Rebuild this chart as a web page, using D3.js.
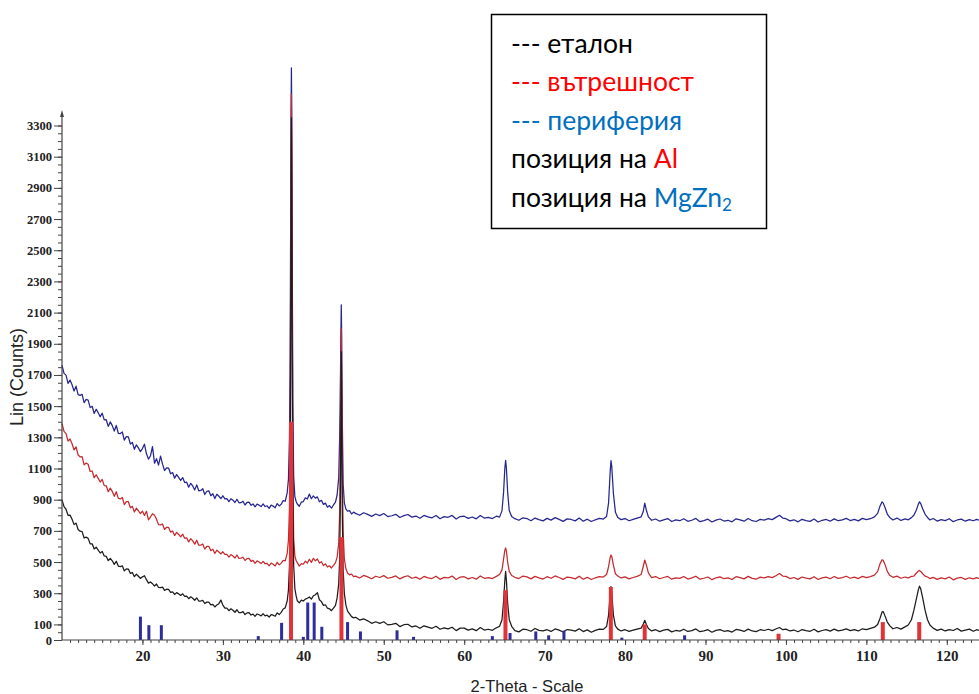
<!DOCTYPE html>
<html>
<head>
<meta charset="utf-8">
<script src="https://cdn.jsdelivr.net/npm/d3@7"></script>
<style>
  body { margin: 0; background: #fff; }
  svg { display: block; }
</style>
</head>
<body>
<div id="chartArea"></div>
<script>
// XRD patterns, [2-theta, counts]
const etalon = [[10,899],[10.25,855],[10.5,839],[10.75,799],[11,801],[11.25,774],[11.5,740],[11.75,750],[12,709],[12.25,698],[12.5,695],[12.75,654],[13,660],[13.25,652],[13.5,617],[13.75,617],[14,584],[14.25,595],[14.5,577],[14.75,558],
  [15,568],[15.25,539],[15.5,537],[15.75,509],[16,524],[16.25,508],[16.5,485],[16.75,505],[17,474],[17.25,471],[17.5,476],[17.75,443],[18,456],[18.25,455],[18.5,427],[18.75,433],[19,406],[19.25,422],[19.5,409],[19.75,395],
  [20,405],[20.25,412],[20.5,387],[20.75,365],[21,372],[21.25,361],[21.5,346],[21.75,359],[22,337],[22.25,336],[22.5,339],[22.75,318],[23,326],[23.25,325],[23.5,306],[23.75,309],[24,292],[24.25,304],[24.5,296],[24.75,286],
  [25,296],[25.25,280],[25.5,281],[25.75,265],[26,277],[26.25,268],[26.5,255],[26.75,270],[27,250],[27.25,250],[27.5,254],[27.75,234],[28,243],[28.25,243],[28.5,225],[28.75,229],[29,212],[29.25,225],[29.5,233],[29.75,256],
  [30,224],[30.25,205],[30.5,205],[30.75,188],[31,200],[31.25,191],[31.5,178],[31.75,194],[32,175],[32.25,176],[32.5,182],[32.75,163],[33,174],[33.25,176],[33.5,160],[33.75,166],[34,152],[34.25,167],[34.5,162],[34.75,155],
  [35,168],[35.25,155],[35.5,159],[35.75,147],[36,163],[36.25,159],[36.5,152],[36.75,174],[37,163],[37.25,177],[37.5,199],[37.75,206],[38,252],
  [38.15,320],[38.28,480],[38.36,900],[38.42,1700],[38.48,2800],[38.52,3350],[38.56,2900],[38.62,1800],[38.7,900],[38.8,480],[38.95,330],[39.1,285],
  [39.25,252],[39.5,238],[39.75,256],[40,250],[40.25,262],[40.5,268],[40.75,276],[41,262],[41.25,284],[41.5,290],[41.75,304],[42,258],[42.25,246],[42.5,222],[42.75,226],[43,204],[43.25,200],[43.5,188],[43.75,204],[44,222],
  [44.2,270],[44.4,360],[44.52,520],[44.62,950],[44.67,1400],[44.72,1850],[44.77,1400],[44.85,800],[44.95,450],[45.1,300],[45.3,222],[45.5,185],[45.75,168],[46,150],[46.25,142],
  [46.5,146],[47,128],[47.5,136],[48,123],[48.5,107],[49,117],[49.5,107],[50,117],[50.5,97],[51,100],[51.5,107],[52,86],[52.5,98],[53,101],[53.5,84],[54,90],[54.5,75],[55,91],[55.5,83],[56,75],[56.5,88],[57,69],[57.5,78],[58,71],[58.5,82],[59,60],[59.5,76],[60,76],[60.5,63],[61,71],[61.5,60],[62,80],[62.5,64],[63,69],[63.5,62],[64,78],
  [64.4,88],[64.7,130],[64.9,250],[65.05,380],[65.15,440],[65.25,380],[65.4,240],[65.6,130],[65.9,88],
  [66.3,60],[66.8,52],[67.3,69],[67.8,66],[68.3,56],[68.8,74],[69.3,62],[69.8,58],[70.3,66],[70.8,55],[71.3,71],[71.8,63],[72.3,51],[72.8,67],[73.3,64],[73.8,57],[74.3,72],[74.8,54],[75.3,65],[75.8,50],[76.3,62],[76.8,70],[77.3,68],
  [77.7,86],[77.95,160],[78.15,300],[78.25,342],[78.35,300],[78.55,160],[78.8,90],[79.1,70],
  [79.5,58],[80,66],[80.5,55],[81,63],[81.5,70],[82,76],[82.25,100],[82.45,126],[82.65,100],[82.9,74],[83.3,58],[83.8,66],[84.3,54],[84.8,63],[85.3,68],[85.8,52],[86.3,61],[86.8,57],[87.3,69],[87.8,55],[88.3,60],[88.8,71],[89.3,53],[89.8,58],[90.3,66],[90.8,50],[91.3,62],[91.8,67],[92.3,56],[92.8,60],[93.3,51],[93.8,68],[94.3,63],[94.8,55],[95.3,70],[95.8,58],[96.3,54],[96.8,66],[97.3,61],[97.8,69],[98.3,60],[98.8,72],[99.2,80],[99.6,66],
  [100,70],[100.5,58],[101,64],[101.5,53],[102,67],[102.5,60],[103,56],[103.5,69],[104,52],[104.5,61],[105,66],[105.5,57],[106,70],[106.5,59],[107,63],[107.5,71],[108,60],[108.5,66],[109,58],[109.5,72],[110,66],[110.5,74],[111,82],
  [111.4,100],[111.7,140],[111.95,180],[112.1,182],[112.35,150],[112.6,115],[112.9,92],[113.3,72],[113.8,80],[114.3,70],[114.8,84],[115.2,96],[115.6,130],[115.9,190],[116.2,260],[116.45,320],[116.6,345],[116.75,330],[117.0,270],[117.3,190],[117.6,130],[117.9,96],
  [118.3,76],[118.8,62],[119.3,70],[119.8,58],[120.3,67],[120.8,61],[121.3,74],[121.8,57],[122.3,64],[122.8,70],[123.3,56],[123.7,66],[124,62]];

const vatreshnost = [[10,1390],[10.25,1338],[10.5,1324],[10.75,1276],[11,1289],[11.25,1259],[11.5,1219],[11.75,1239],[12,1187],[12.25,1175],[12.5,1176],[12.75,1123],[13,1135],[13.25,1127],[13.5,1081],[13.75,1084],[14,1041],[14.25,1060],[14.5,1037],[14.75,1013],
  [15,1030],[15.25,990],[15.5,989],[15.75,951],[16,974],[16.25,953],[16.5,922],[16.75,951],[17,908],[17.25,905],[17.5,914],[17.75,868],[18,888],[18.25,887],[18.5,848],[18.75,857],[19,821],[19.25,846],[19.5,829],[19.75,810],
  [20,827],[20.25,799],[20.5,826],[20.75,771],[21,790],[21.25,810],[21.5,800],[21.75,774],[22,740],[22.25,738],[22.5,744],[22.75,709],[23,723],[23.25,722],[23.5,692],[23.75,699],[24,670],[24.25,690],[24.5,677],[24.75,662],
  [25,679],[25.25,653],[25.5,655],[25.75,629],[26,650],[26.25,636],[26.5,615],[26.75,640],[27,608],[27.25,608],[27.5,616],[27.75,583],[28,600],[28.25,601],[28.5,573],[28.75,582],[29,555],[29.25,576],[29.5,565],[29.75,552],
  [30,566],[30.25,549],[30.5,550],[30.75,532],[31,548],[31.25,539],[31.5,526],[31.75,545],[32,523],[32.25,525],[32.5,531],[32.75,510],[33,522],[33.25,523],[33.5,504],[33.75,511],[34,492],[34.25,508],[34.5,500],[34.75,490],
  [35,504],[35.25,489],[35.5,492],[35.75,476],[36,493],[36.25,486],[36.5,475],[36.75,498],[37,482],[37.25,493],[37.5,510],[37.75,508],[38,556],
  [38.15,640],[38.28,850],[38.36,1300],[38.42,2200],[38.48,3100],[38.52,3500],[38.56,3150],[38.62,2200],[38.7,1100],[38.8,650],[38.95,540],[39.1,510],
  [39.25,496],[39.5,474],[39.75,490],[40,486],[40.25,506],[40.5,494],[40.75,518],[41,498],[41.25,524],[41.5,508],[41.75,520],[42,494],[42.25,502],[42.5,478],[42.75,488],[43,468],[43.25,476],[43.5,462],[43.75,478],[44,496],
  [44.2,530],[44.4,620],[44.52,820],[44.62,1350],[44.67,1700],[44.72,2000],[44.77,1650],[44.85,1100],[44.95,700],[45.1,520],[45.3,455],[45.5,430],[45.75,418],[46,422],[46.25,406],
  [46.5,410],[47,398],[47.5,414],[48,405],[48.5,393],[49,409],[49.5,401],[50,413],[50.5,396],[51,402],[51.5,411],[52,392],[52.5,405],[53,412],[53.5,396],[54,403],[54.5,390],[55,408],[55.5,399],[56,394],[56.5,409],[57,389],[57.5,402],[58,398],[58.5,410],[59,388],[59.5,404],[60,406],[60.5,392],[61,401],[61.5,390],[62,411],[62.5,396],[63,400],[63.5,394],[64,408],
  [64.4,420],[64.7,450],[64.9,520],[65.05,575],[65.15,590],[65.25,570],[65.4,500],[65.6,440],[65.9,414],
  [66.3,402],[66.8,394],[67.3,410],[67.8,405],[68.3,392],[68.8,408],[69.3,399],[69.8,391],[70.3,406],[70.8,396],[71.3,411],[71.8,401],[72.3,389],[72.8,404],[73.3,400],[73.8,392],[74.3,409],[74.8,390],[75.3,402],[75.8,388],[76.3,399],[76.8,407],[77.3,404],
  [77.7,420],[77.95,470],[78.15,530],[78.25,545],[78.35,535],[78.55,480],[78.8,425],[79.1,410],
  [79.5,398],[80,405],[80.5,392],[81,401],[81.5,408],[82,420],[82.25,470],[82.45,513],[82.65,480],[82.9,430],[83.3,400],[83.8,407],[84.3,393],[84.8,401],[85.3,408],[85.8,390],[86.3,399],[86.8,395],[87.3,407],[87.8,391],[88.3,398],[88.8,409],[89.3,390],[89.8,396],[90.3,404],[90.8,387],[91.3,399],[91.8,405],[92.3,393],[92.8,398],[93.3,388],[93.8,406],[94.3,400],[94.8,392],[95.3,408],[95.8,395],[96.3,390],[96.8,403],[97.3,398],[97.8,406],[98.3,400],[98.8,414],[99.2,426],[99.6,410],
  [100,408],[100.5,394],[101,401],[101.5,389],[102,404],[102.5,397],[103,392],[103.5,406],[104,388],[104.5,398],[105,403],[105.5,393],[106,407],[106.5,395],[107,400],[107.5,409],[108,396],[108.5,403],[109,394],[109.5,408],[110,400],[110.5,406],[111,416],
  [111.4,440],[111.7,490],[111.95,515],[112.1,510],[112.35,480],[112.6,440],[112.9,415],[113.3,402],[113.8,410],[114.3,396],[114.8,404],[115.2,398],[115.6,408],[115.9,410],[116.2,428],[116.45,442],[116.6,446],[116.75,440],[117.0,425],[117.3,410],[117.6,404],[117.9,394],
  [118.3,402],[118.8,389],[119.3,398],[119.8,392],[120.3,404],[120.8,386],[121.3,397],[121.8,401],[122.3,389],[122.8,399],[123.3,392],[123.7,400],[124,394]];

const periferia = [[10,1763],[10.25,1710],[10.5,1699],[10.75,1646],[11,1667],[11.25,1637],[11.5,1597],[11.75,1628],[12,1574],[12.25,1569],[12.5,1576],[12.75,1522],[13,1543],[13.25,1539],[13.5,1491],[13.75,1499],[14,1453],[14.25,1480],[14.5,1458],[14.75,1432],
  [15,1455],[15.25,1412],[15.5,1413],[15.75,1370],[16,1399],[16.25,1375],[16.5,1340],[16.75,1376],[17,1326],[17.25,1324],[17.5,1334],[17.75,1282],[18,1305],[18.25,1303],[18.5,1257],[18.75,1267],[19,1223],[19.25,1252],[19.5,1232],[19.75,1208],
  [20,1228],[20.25,1256],[20.5,1194],[20.75,1160],[21,1182],[21.25,1240],[21.5,1134],[21.75,1163],[22,1122],[22.25,1180],[22.5,1128],[22.75,1087],[23,1104],[23.25,1103],[23.5,1066],[23.75,1074],[24,1038],[24.25,1061],[24.5,1043],[24.75,1023],
  [25,1042],[25.25,1010],[25.5,1012],[25.75,980],[26,1005],[26.25,988],[26.5,963],[26.75,995],[27,957],[27.25,959],[27.5,970],[27.75,933],[28,954],[28.25,957],[28.5,925],[28.75,938],[29,907],[29.25,935],[29.5,922],[29.75,907],
  [30,925],[30.25,905],[30.5,907],[30.75,887],[31,906],[31.25,897],[31.5,882],[31.75,903],[32,880],[32.25,881],[32.5,890],[32.75,866],[33,882],[33.25,884],[33.5,864],[33.75,873],[34,854],[34.25,872],[34.5,865],[34.75,856],
  [35,873],[35.25,856],[35.5,861],[35.75,844],[36,865],[36.25,859],[36.5,848],[36.75,875],[37,860],[37.25,871],[37.5,894],[37.75,890],[38,945],
  [38.15,1030],[38.28,1300],[38.36,1800],[38.42,2600],[38.48,3400],[38.52,3670],[38.56,3400],[38.62,2500],[38.7,1500],[38.8,1050],[38.95,920],[39.1,890],
  [39.25,872],[39.5,858],[39.75,884],[40,888],[40.25,912],[40.5,904],[40.75,936],[41,906],[41.25,924],[41.5,910],[41.75,918],[42,886],[42.25,896],[42.5,870],[42.75,878],[43,852],[43.25,862],[43.5,846],[43.75,866],[44,884],
  [44.2,930],[44.4,1040],[44.52,1300],[44.62,1700],[44.67,1950],[44.72,2150],[44.77,1950],[44.85,1400],[44.95,1000],[45.1,880],[45.3,840],[45.5,826],[45.75,830],[46,808],[46.25,820],
  [46.5,812],[47,800],[47.5,816],[48,806],[48.5,793],[49,808],[49.5,798],[50,811],[50.5,792],[51,797],[51.5,806],[52,786],[52.5,798],[53,805],[53.5,788],[54,795],[54.5,781],[55,799],[55.5,790],[56,784],[56.5,799],[57,778],[57.5,791],[58,787],[58.5,799],[59,776],[59.5,792],[60,794],[60.5,780],[61,789],[61.5,777],[62,798],[62.5,782],[63,787],[63.5,779],[64,794],
  [64.4,788],[64.7,830],[64.9,950],[65.05,1100],[65.15,1152],[65.25,1100],[65.4,950],[65.6,830],[65.9,792],
  [66.3,778],[66.8,768],[67.3,784],[67.8,779],[68.3,765],[68.8,782],[69.3,772],[69.8,764],[70.3,780],[70.8,769],[71.3,785],[71.8,774],[72.3,761],[72.8,777],[73.3,773],[73.8,764],[74.3,782],[74.8,762],[75.3,775],[75.8,760],[76.3,771],[76.8,780],[77.3,776],
  [77.7,792],[77.95,880],[78.15,1080],[78.25,1150],[78.35,1110],[78.55,940],[78.8,820],[79.1,786],
  [79.5,772],[80,779],[80.5,765],[81,774],[81.5,782],[82,790],[82.25,822],[82.45,878],[82.65,832],[82.9,790],[83.3,768],[83.8,776],[84.3,762],[84.8,771],[85.3,779],[85.8,760],[86.3,770],[86.8,765],[87.3,778],[87.8,761],[88.3,768],[88.8,780],[89.3,759],[89.8,766],[90.3,775],[90.8,757],[91.3,769],[91.8,776],[92.3,763],[92.8,768],[93.3,758],[93.8,777],[94.3,771],[94.8,762],[95.3,779],[95.8,765],[96.3,760],[96.8,774],[97.3,769],[97.8,778],[98.3,772],[98.8,788],[99.2,800],[99.6,782],
  [100,778],[100.5,764],[101,771],[101.5,758],[102,774],[102.5,766],[103,761],[103.5,776],[104,757],[104.5,768],[105,773],[105.5,762],[106,777],[106.5,765],[107,770],[107.5,780],[108,766],[108.5,774],[109,764],[109.5,780],[110,772],[110.5,778],[111,790],
  [111.4,812],[111.7,860],[111.95,886],[112.1,878],[112.35,845],[112.6,808],[112.9,786],[113.3,770],[113.8,782],[114.3,767],[114.8,777],[115.2,771],[115.6,785],[115.9,800],[116.2,832],[116.45,870],[116.6,886],[116.75,876],[117.0,842],[117.3,806],[117.6,786],[117.9,770],
  [118.3,779],[118.8,763],[119.3,772],[119.8,766],[120.3,778],[120.8,759],[121.3,770],[121.8,775],[122.3,762],[122.8,772],[123.3,765],[123.7,774],[124,768]];

// reference line positions (2-theta) and their heights in counts
const alPos    = [38.47, 44.74, 65.13, 78.23, 82.44, 99.08, 112.04, 116.57];
const alCounts = [1400, 660, 320, 340, 100, 40, 115, 115];
const mgPos    = [19.75, 20.8, 22.35, 34.4, 37.3, 40.0, 40.55, 41.35, 42.3, 45.5, 47.1, 51.65, 53.7, 63.5, 65.7, 68.9, 70.5, 72.4, 79.6, 87.4];
const mgCounts = [150, 95, 95, 25, 110, 20, 240, 240, 85, 115, 55, 62, 20, 25, 45, 55, 30, 60, 15, 30];

const xTicks = [20, 30, 40, 50, 60, 70, 80, 90, 100, 110, 120];
const yTicks = [0, 100, 300, 500, 700, 900, 1100, 1300, 1500, 1700, 1900, 2100, 2300, 2500, 2700, 2900, 3100, 3300];

const legendRows = [["--- еталон"], ["--- вътрешност"], ["--- периферия"], ["позиция на ", "Al"], ["позиция на ", "MgZn", "2"]];

var width = 979, height = 694;
var svg = d3.select('#chartArea').append('svg')
    .attr('width', width)
    .attr('height', height);

var x = d3.scaleLinear().domain([10, 124]).range([62, 979]);
var y = d3.scaleLinear().domain([0, 3300]).range([640, 125.5]);

var line = d3.line().x(function(d){ return x(d[0]); }).y(function(d){ return y(d[1]); });

// curves: периферия under вътрешност under еталон
[[periferia, '#262690'], [vatreshnost, '#c42a2e'], [etalon, '#1c1c1c']].forEach(function(s) {
    svg.append('path').datum(s[0])
        .attr('d', line)
        .attr('fill', 'none')
        .attr('stroke', s[1])
        .attr('stroke-width', 1.25)
        .attr('stroke-linejoin', 'round');
});

// MgZn2 reference lines
svg.append('g').selectAll('rect').data(mgPos).enter().append('rect')
    .attr('x', function(d){ return x(d) - 1.5; })
    .attr('y', function(d, i){ return y(mgCounts[i]); })
    .attr('width', 3)
    .attr('height', function(d, i){ return y(0) - y(mgCounts[i]); })
    .attr('fill', '#2d2d9c');

// Al reference lines
svg.append('g').selectAll('rect').data(alPos).enter().append('rect')
    .attr('x', function(d){ return x(d) - 2; })
    .attr('y', function(d, i){ return y(alCounts[i]); })
    .attr('width', 4)
    .attr('height', function(d, i){ return y(0) - y(alCounts[i]); })
    .attr('fill', '#e03438');

// y axis
var axisColor = '#444';
var tickFont = 'Liberation Serif';
var yMinor = svg.append('g').attr('transform', 'translate(62,0)')
    .call(d3.axisLeft(y).tickValues(d3.range(0, 3301, 50)).tickSize(4).tickFormat(''));
var yMajor = svg.append('g').attr('transform', 'translate(62,0)')
    .call(d3.axisLeft(y).tickValues(yTicks).tickFormat(d3.format('d')).tickSize(8).tickPadding(2));
yMajor.attr('font-family', tickFont).attr('font-weight', 'bold').attr('font-size', 12.5);
yMajor.selectAll('text').attr('fill', '#222');

// x axis
var xMinor = svg.append('g').attr('transform', 'translate(0,640)')
    .call(d3.axisBottom(x).tickValues(d3.range(11, 124, 1)).tickSize(3).tickFormat(''));
var xMajor = svg.append('g').attr('transform', 'translate(0,640)')
    .call(d3.axisBottom(x).tickValues(xTicks).tickSize(5).tickPadding(5));
xMajor.attr('font-family', tickFont).attr('font-weight', 'bold').attr('font-size', 15);
xMajor.selectAll('text').attr('fill', '#222');

[yMinor, yMajor, xMinor, xMajor].forEach(function(g) {
    g.select('.domain').remove();
    g.selectAll('line').attr('stroke', axisColor);
});

svg.append('line').attr('x1', 62).attr('x2', 62).attr('y1', 640).attr('y2', 113)
    .attr('stroke', axisColor).attr('stroke-width', 1.2);
svg.append('path').attr('d', 'M60,117 L62,110 L64,117 Z').attr('fill', axisColor);
svg.append('line').attr('x1', 62).attr('x2', 979).attr('y1', 640).attr('y2', 640)
    .attr('stroke', axisColor).attr('stroke-width', 1.2);

// axis titles
svg.append('text')
    .attr('transform', 'translate(23,377) rotate(-90)')
    .attr('text-anchor', 'middle')
    .attr('font-family', 'Liberation Sans')
    .attr('font-size', 18)
    .attr('fill', '#222')
    .text('Lin (Counts)');
svg.append('text')
    .attr('x', 527)
    .attr('y', 692)
    .attr('text-anchor', 'middle')
    .attr('font-family', 'Liberation Sans')
    .attr('font-size', 16.5)
    .attr('fill', '#222')
    .text('2-Theta - Scale');

// legend box
var legendColors = [['#000'], ['#ff0000'], ['#0070c0'], ['#000', '#ff0000'], ['#000', '#0070c0', '#0070c0']];
svg.append('rect')
    .attr('x', 491.5).attr('y', 14.5)
    .attr('width', 275).attr('height', 214)
    .attr('fill', '#fff')
    .attr('stroke', '#000')
    .attr('stroke-width', 1.5);
legendRows.forEach(function(row, i) {
    var t = svg.append('text')
        .attr('x', 511)
        .attr('y', 52.5 + i * 38.5)
        .attr('font-family', 'Lato')
        .attr('font-size', 26.5);
    row.forEach(function(part, j) {
        var sp = t.append('tspan').attr('fill', legendColors[i][j]).text(part);
        if (i == 4 && j == 2) sp.attr('font-size', 17).attr('dy', 4);
    });
});
</script>
</body>
</html>
